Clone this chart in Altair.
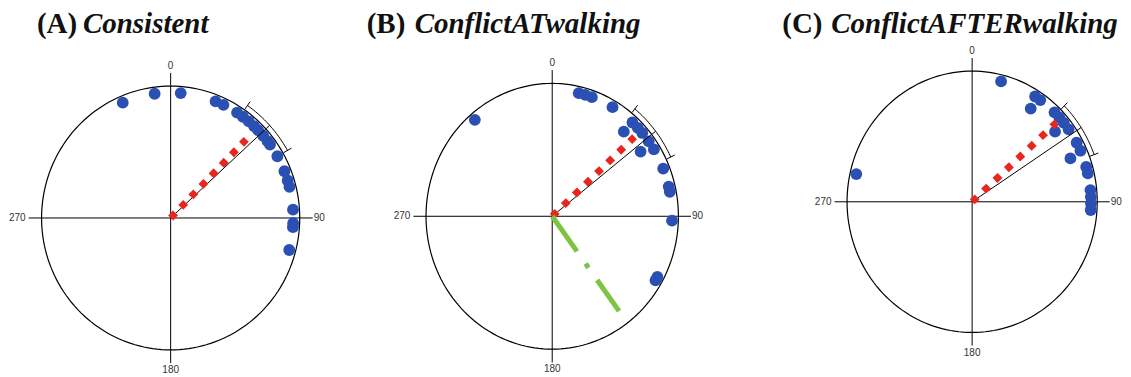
import math
import altair as alt
import pandas as pd

# ---------------- data ----------------
TITLE_TAGS = ["(A)", "(B)", "(C)"]
TITLE_WORDS = ["Consistent", "ConflictATwalking", "ConflictAFTERwalking"]
AXIS_LABELS = ["0", "90", "180", "270"]

A_ANGLES = [337.0, 352.5, 4.7, 21.5, 25.5, 32.8, 36.1, 39.6, 42.8, 45.5, 49.0,
            52.2, 54.1, 60.5, 68.1, 72.6, 75.6, 86.2, 92.4, 94.2, 104.8]
A_STACK = [1, 1, 1, 1, 1, 1, 1, 1, 1, 1, 1, 1, 1, 1, 1, 1, 1, 1, 1, 1, 1]

B_ANGLES = [319.8, 12.8, 16.0, 19.3, 30.2, 42.0, 45.5, 48.7, 41.7, 53.6, 58.0,
            55.2, 67.8, 76.4, 78.8, 92.0, 118.7, 120.5]
B_STACK = [1, 1, 1, 1, 1, 1, 1, 1, 2, 1, 1, 2, 1, 1, 1, 1, 1, 1]

C_ANGLES = [282.9, 14.1, 32.0, 35.0, 33.3, 43.9, 47.2, 50.5, 54.3, 51.0, 61.6,
            65.7, 67.1, 73.7, 76.8, 84.6, 87.7, 90.7, 93.8]
C_STACK = [1, 1, 1, 1, 2, 1, 1, 1, 1, 2, 1, 1, 2, 1, 1, 1, 1, 1, 1]

MEAN_ANGLE = [44.5, 47.5, 48.0]        # red mean vector direction (deg)
MEAN_LENGTH = [0.835, 0.885, 0.91]     # red mean vector length (r)
MEAN_LINE_ANGLE = [47.5, 52.0, 56.9]   # black line direction (deg)
CI_LOW = [34.9, 39.0, 45.1]
CI_HIGH = [60.5, 64.6, 69.7]
B_GREEN_ANGLE = 143.4
B_GREEN_LENGTH = 0.889

ANGLES = [A_ANGLES, B_ANGLES, C_ANGLES]
STACKS = [A_STACK, B_STACK, C_STACK]

# ---------------- layout (page pixels) ----------------
PANEL_LEFT = [8, 355, 770]
PANEL_RIGHT = [355, 770, 1123]
TOP, BOTTOM = 8, 369
CENTER_X = [169.8, 551.7, 972.0]
CENTER_Y = [218.0, 216.3, 201.8]
RAD_X = [129.2, 126.3, 125.2]
RAD_Y = [132.0, 133.0, 130.8]
TAG_X = [36, 366, 782]
WORD_X = [82, 414, 831]
TITLE_BASE = 33

STACK_R = {1: 0.95, 2: 0.853}
AXIS_EXT = 1.1
CI_R = 1.04
RED_DASH = 7.0
RED_COUNT = 8

BLUE = "#2b50b4"
RED = "#e8261e"
GREEN = "#7dc443"


def pol(a, r):
    t = math.radians(a)
    return r * math.sin(t), r * math.cos(t)


def panel(i):
    w = PANEL_RIGHT[i] - PANEL_LEFT[i]
    h = BOTTOM - TOP
    xdom = [(PANEL_LEFT[i] - CENTER_X[i]) / RAD_X[i], (PANEL_RIGHT[i] - CENTER_X[i]) / RAD_X[i]]
    ydom = [-(BOTTOM - CENTER_Y[i]) / RAD_Y[i], (CENTER_Y[i] - TOP) / RAD_Y[i]]
    xs = alt.Scale(domain=xdom, nice=False, zero=False)
    ys = alt.Scale(domain=ydom, nice=False, zero=False)

    def X(f="x"):
        return alt.X(f"{f}:Q", scale=xs, axis=None)

    def Y(f="y"):
        return alt.Y(f"{f}:Q", scale=ys, axis=None)

    # circle frame
    ring = []
    for k in range(0, 361, 2):
        x, y = pol(k, 1.0)
        ring.append({"i": k, "x": x, "y": y})
    ring_layer = alt.Chart(pd.DataFrame(ring)).mark_line(
        color="black", strokeWidth=1.2).encode(x=X(), y=Y(), order="i:Q")

    # cross axes
    axes_df = pd.DataFrame([
        {"x": -AXIS_EXT, "y": 0.0, "x2": AXIS_EXT, "y2": 0.0},
        {"x": 0.0, "y": -AXIS_EXT, "x2": 0.0, "y2": AXIS_EXT},
    ])
    axes_layer = alt.Chart(axes_df).mark_rule(color="black", strokeWidth=1).encode(
        x=X(), y=Y(), x2="x2:Q", y2="y2:Q")

    # axis labels
    lab = lambda t, x, y, al, bl, dx, dy: alt.Chart(pd.DataFrame([{"t": t, "x": x, "y": y}])).mark_text(
        font="Liberation Sans", fontSize=10, color="#333333", align=al, baseline=bl, dx=dx, dy=dy
    ).encode(x=X(), y=Y(), text="t:N")
    labels = [
        lab(AXIS_LABELS[0], 0.0, AXIS_EXT, "center", "bottom", 0, -2),
        lab(AXIS_LABELS[1], AXIS_EXT, 0.0, "left", "middle", 1, 0),
        lab(AXIS_LABELS[2], 0.0, -AXIS_EXT, "center", "top", 0, 2),
        lab(AXIS_LABELS[3], -AXIS_EXT, 0.0, "right", "middle", -3, 0),
    ]

    # data points
    pts = []
    for a, s in zip(ANGLES[i], STACKS[i]):
        x, y = pol(a, STACK_R[s])
        pts.append({"angle": a, "x": x, "y": y})
    dots = alt.Chart(pd.DataFrame(pts)).mark_circle(size=140, color=BLUE, opacity=1).encode(
        x=X(), y=Y())

    # confidence arc with end ticks
    arc = []
    lo, hi = CI_LOW[i], CI_HIGH[i]
    n = 30
    for k in range(n + 1):
        a = lo + (hi - lo) * k / n
        x, y = pol(a, CI_R)
        arc.append({"i": k, "x": x, "y": y})
    arc_layer = alt.Chart(pd.DataFrame(arc)).mark_line(color="black", strokeWidth=1).encode(
        x=X(), y=Y(), order="i:Q")
    ticks = []
    for a in (lo, hi):
        x1, y1 = pol(a, 1.005)
        x2, y2 = pol(a, 1.075)
        ticks.append({"x": x1, "y": y1, "x2": x2, "y2": y2})
    tick_layer = alt.Chart(pd.DataFrame(ticks)).mark_rule(color="black", strokeWidth=1).encode(
        x=X(), y=Y(), x2="x2:Q", y2="y2:Q")

    # black mean line
    bx, by = pol(MEAN_LINE_ANGLE[i], CI_R)
    black = alt.Chart(pd.DataFrame([{"x": 0.0, "y": 0.0, "x2": bx, "y2": by}])).mark_rule(
        color="black", strokeWidth=1).encode(x=X(), y=Y(), x2="x2:Q", y2="y2:Q")

    # red mean vector (dotted: a fixed number of square dashes)
    rx, ry = pol(MEAN_ANGLE[i], MEAN_LENGTH[i])
    length_px = math.hypot(rx * RAD_X[i], ry * RAD_Y[i])
    gap = (length_px - RED_COUNT * RED_DASH) / (RED_COUNT - 1) + 0.05
    red = alt.Chart(pd.DataFrame([{"x": 0.0, "y": 0.0, "x2": rx, "y2": ry}])).mark_rule(
        color=RED, strokeWidth=7, strokeDash=[RED_DASH, round(gap, 2)], strokeCap="butt").encode(
        x=X(), y=Y(), x2="x2:Q", y2="y2:Q")

    layers = [ring_layer, axes_layer] + labels + [dots, arc_layer, tick_layer, black, red]

    if i == 1:
        gx, gy = pol(B_GREEN_ANGLE, B_GREEN_LENGTH)
        green = alt.Chart(pd.DataFrame([{"x": 0.0, "y": 0.0, "x2": gx, "y2": gy}])).mark_rule(
            color=GREEN, strokeWidth=5, strokeDash=[43, 15, 5, 15], strokeCap="butt").encode(
            x=X(), y=Y(), x2="x2:Q", y2="y2:Q")
        layers.append(green)

    # titles
    tag = alt.Chart(pd.DataFrame([{"t": TITLE_TAGS[i]}])).mark_text(
        font="Liberation Serif", fontSize=29, fontWeight="bold", color="#111111",
        align="left", baseline="alphabetic").encode(
        text="t:N", x=alt.value(TAG_X[i] - PANEL_LEFT[i]), y=alt.value(TITLE_BASE - TOP))
    word = alt.Chart(pd.DataFrame([{"t": TITLE_WORDS[i]}])).mark_text(
        font="Liberation Serif", fontSize=29, fontWeight="bold", fontStyle="italic", color="#111111",
        align="left", baseline="alphabetic").encode(
        text="t:N", x=alt.value(WORD_X[i] - PANEL_LEFT[i]), y=alt.value(TITLE_BASE - TOP))
    layers += [tag, word]

    return alt.layer(*layers).properties(width=w, height=h)


chart = alt.hconcat(panel(0), panel(1), panel(2), spacing=0, bounds="flush").properties(
    padding=0, background="white").configure_view(stroke=None)

chart.save("out.html", embed_options={"renderer": "svg", "actions": False})
